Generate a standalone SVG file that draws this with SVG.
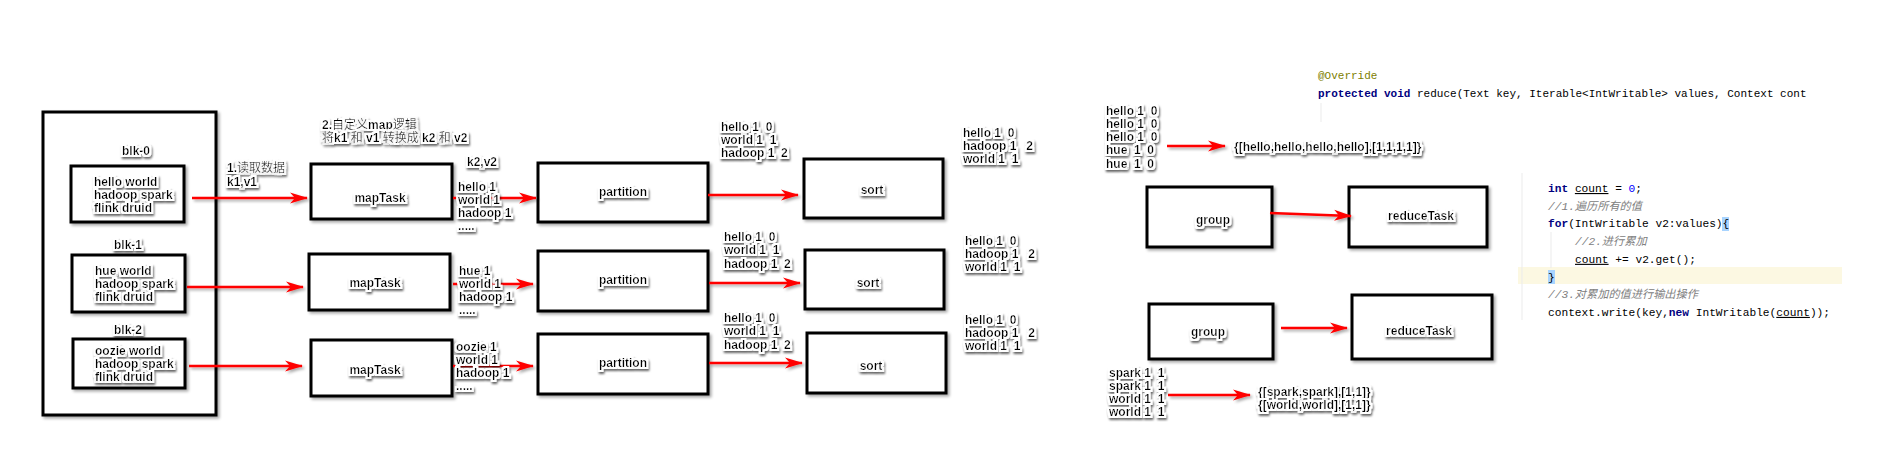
<svg xmlns="http://www.w3.org/2000/svg" width="1880" height="460" viewBox="0 0 1880 460">
<style>
.lbl{font-family:"Liberation Sans","Noto Sans CJK SC",Arial,sans-serif;font-size:12px;font-weight:bold;fill:#000;filter:url(#halo);white-space:pre}
.cn{font-weight:normal}
.mid{text-anchor:middle}
.box{fill:#fff;stroke:#000;stroke-width:3;filter:url(#sh)}
.arr{stroke:#f00;stroke-width:2.5;fill:none;marker-end:url(#ah)}
.code{font-family:"Liberation Mono","Noto Sans CJK SC",monospace;font-size:11.2px;fill:#000;white-space:pre}
.kw{fill:#000080;font-weight:bold}
.num{fill:#0000ff}
.cm{fill:#808080;font-style:italic}
.ann{fill:#808000}
.ul{text-decoration:underline}
.guide{stroke:#ebebeb;stroke-width:1}
</style>
<defs>
<filter id="halo" x="-20%" y="-50%" width="140%" height="200%">
<feMorphology in="SourceAlpha" operator="dilate" radius="1.7" result="d"/>
<feGaussianBlur in="d" stdDeviation="1.2" result="b"/>
<feOffset in="b" dx="1.2" dy="1.8" result="o"/>
<feFlood flood-color="#000" flood-opacity="0.6" result="fc"/>
<feComposite in="fc" in2="o" operator="in" result="shd"/>
<feFlood flood-color="#fff" result="wc"/>
<feComposite in="wc" in2="d" operator="in" result="wh"/>
<feMerge><feMergeNode in="shd"/><feMergeNode in="wh"/><feMergeNode in="SourceGraphic"/></feMerge>
</filter>
<filter id="sh" x="-10%" y="-20%" width="125%" height="150%">
<feGaussianBlur in="SourceAlpha" stdDeviation="1.4"/>
<feOffset dx="2" dy="2" result="o"/>
<feComponentTransfer in="o" result="t"><feFuncA type="linear" slope="0.35"/></feComponentTransfer>
<feMerge><feMergeNode in="t"/><feMergeNode in="SourceGraphic"/></feMerge>
</filter>
<marker id="ah" markerUnits="userSpaceOnUse" markerWidth="18" markerHeight="12" refX="17" refY="6" orient="auto">
<path d="M0,0.5 L18,6 L0,11.5 L5,6 Z" fill="#f00"/>
</marker>
</defs>

<g id="file">
<rect class="box" x="43" y="112" width="173" height="303"/>
</g>
<g id="blk0">
<text class="lbl mid" x="136" y="155">blk-0</text>
<rect class="box" x="71" y="166" width="113" height="56"/>
<text class="lbl" x="94" y="186">hello world</text>
<text class="lbl" x="94" y="199">hadoop spark</text>
<text class="lbl" x="94" y="212">flink druid</text>
</g>
<g id="blk1">
<text class="lbl mid" x="128" y="249">blk-1</text>
<rect class="box" x="72" y="255" width="113" height="57"/>
<text class="lbl" x="95" y="275">hue world</text>
<text class="lbl" x="95" y="288">hadoop spark</text>
<text class="lbl" x="95" y="301">flink druid</text>
</g>
<g id="blk2">
<text class="lbl mid" x="128" y="334">blk-2</text>
<rect class="box" x="73" y="339" width="112" height="49"/>
<text class="lbl" x="95" y="355">oozie world</text>
<text class="lbl" x="95" y="368">hadoop spark</text>
<text class="lbl" x="95" y="381">flink druid</text>
</g>

<g id="map1"><rect class="box" x="311" y="164" width="141" height="55"/><text class="lbl mid" x="380" y="202">mapTask</text></g>
<g id="map2"><rect class="box" x="309" y="254" width="141" height="56"/><text class="lbl mid" x="375" y="287">mapTask</text></g>
<g id="map3"><rect class="box" x="311" y="340" width="141" height="56"/><text class="lbl mid" x="375" y="374">mapTask</text></g>

<g id="part1"><rect class="box" x="538" y="163" width="170" height="59"/><text class="lbl mid" x="623" y="196">partition</text></g>
<g id="part2"><rect class="box" x="538" y="251" width="170" height="60"/><text class="lbl mid" x="623" y="284">partition</text></g>
<g id="part3"><rect class="box" x="538" y="334" width="170" height="60"/><text class="lbl mid" x="623" y="367">partition</text></g>

<g id="sort1"><rect class="box" x="804" y="159" width="139" height="59"/><text class="lbl mid" x="872" y="194">sort</text></g>
<g id="sort2"><rect class="box" x="805" y="250" width="139" height="59"/><text class="lbl mid" x="868" y="287">sort</text></g>
<g id="sort3"><rect class="box" x="807" y="333" width="139" height="60"/><text class="lbl mid" x="871" y="370">sort</text></g>

<g id="group1"><rect class="box" x="1147" y="187" width="125" height="60"/><text class="lbl mid" x="1213" y="224">group</text></g>
<g id="reduce1"><rect class="box" x="1349" y="187" width="138" height="60"/><text class="lbl mid" x="1421" y="220">reduceTask</text></g>
<g id="group2"><rect class="box" x="1149" y="304" width="124" height="55"/><text class="lbl mid" x="1208" y="336">group</text></g>
<g id="reduce2"><rect class="box" x="1352" y="295" width="140" height="64"/><text class="lbl mid" x="1419" y="335">reduceTask</text></g>

<g id="connectors" filter="url(#sh)">
<line class="arr" x1="192" y1="198" x2="307" y2="198"/>
<line class="arr" x1="187" y1="287" x2="303" y2="287"/>
<line class="arr" x1="189" y1="366" x2="302" y2="366"/>
<line class="arr" x1="453" y1="198" x2="536" y2="198"/>
<line class="arr" x1="453" y1="284" x2="533" y2="284"/>
<line class="arr" x1="453" y1="366" x2="533" y2="366"/>
<line class="arr" x1="708" y1="195" x2="798" y2="195"/>
<line class="arr" x1="709" y1="283" x2="800" y2="283"/>
<line class="arr" x1="709" y1="363" x2="802" y2="363"/>
<line class="arr" x1="1167" y1="146" x2="1225" y2="146"/>
<line class="arr" x1="1270" y1="213" x2="1351" y2="216"/>
<line class="arr" x1="1281" y1="328" x2="1347" y2="328"/>
<line class="arr" x1="1168" y1="395" x2="1250" y2="395"/>
</g>

<g id="labels">
<text class="lbl" x="227" y="172">1.<tspan class="cn">读取数据</tspan></text>
<text class="lbl" x="227" y="186">k1,v1</text>
<text class="lbl" x="322" y="129">2.<tspan class="cn">自定义</tspan>map<tspan class="cn">逻辑</tspan></text>
<text class="lbl" x="322" y="142"><tspan class="cn">将</tspan>k1 <tspan class="cn">和</tspan> v1 <tspan class="cn">转换成</tspan> k2 <tspan class="cn">和</tspan> v2</text>
<text class="lbl" x="467" y="166">k2,v2</text>

<text class="lbl" x="458" y="191">hello 1</text>
<text class="lbl" x="458" y="204">world 1</text>
<text class="lbl" x="458" y="217">hadoop 1</text>
<text class="lbl" x="458" y="230">.....</text>
<text class="lbl" x="459" y="275">hue 1</text>
<text class="lbl" x="459" y="288">world 1</text>
<text class="lbl" x="459" y="301">hadoop 1</text>
<text class="lbl" x="459" y="314">.....</text>
<text class="lbl" x="456" y="351">oozie 1</text>
<text class="lbl" x="456" y="364">world 1</text>
<text class="lbl" x="456" y="377">hadoop 1</text>
<text class="lbl" x="456" y="390">.....</text>

<text class="lbl" x="721" y="131">hello 1  0</text>
<text class="lbl" x="721" y="144">world 1  1</text>
<text class="lbl" x="721" y="157">hadoop 1  2</text>
<text class="lbl" x="724" y="241">hello 1  0</text>
<text class="lbl" x="724" y="254">world 1  1</text>
<text class="lbl" x="724" y="268">hadoop 1  2</text>
<text class="lbl" x="724" y="322">hello 1  0</text>
<text class="lbl" x="724" y="335">world 1  1</text>
<text class="lbl" x="724" y="349">hadoop 1  2</text>

<text class="lbl" x="963" y="137">hello 1  0</text>
<text class="lbl" x="963" y="150">hadoop 1   2</text>
<text class="lbl" x="963" y="163">world 1  1</text>
<text class="lbl" x="965" y="245">hello 1  0</text>
<text class="lbl" x="965" y="258">hadoop 1   2</text>
<text class="lbl" x="965" y="271">world 1  1</text>
<text class="lbl" x="965" y="324">hello 1  0</text>
<text class="lbl" x="965" y="337">hadoop 1   2</text>
<text class="lbl" x="965" y="350">world 1  1</text>

<text class="lbl" x="1106" y="115">hello 1  0</text>
<text class="lbl" x="1106" y="128">hello 1  0</text>
<text class="lbl" x="1106" y="141">hello 1  0</text>
<text class="lbl" x="1106" y="154">hue  1  0</text>
<text class="lbl" x="1106" y="168">hue  1  0</text>
<text class="lbl" x="1234" y="151">{[hello,hello,hello,hello],[1,1,1,1]}</text>

<text class="lbl" x="1109" y="377">spark 1  1</text>
<text class="lbl" x="1109" y="390">spark 1  1</text>
<text class="lbl" x="1109" y="403">world 1  1</text>
<text class="lbl" x="1109" y="416">world 1  1</text>
<text class="lbl" x="1258" y="396">{[spark,spark],[1,1]}</text>
<text class="lbl" x="1258" y="409">{[world,world],[1,1]}</text>
</g>

<g id="code">
<line class="guide" x1="1321" y1="103" x2="1321" y2="122"/>
<text class="code ann" x="1318" y="79" style="font-size:11px">@Override</text>
<text class="code" x="1318" y="97" style="font-size:11px"><tspan class="kw">protected void</tspan> reduce(Text key, Iterable&lt;IntWritable&gt; values, Context cont</text>
<rect x="1518" y="267" width="324" height="17" fill="#fcf8e2"/>
<line class="guide" x1="1522" y1="173" x2="1522" y2="320"/>
<line class="guide" x1="1551" y1="232" x2="1551" y2="268"/>
<rect x="1722" y="217" width="7" height="14" fill="#a8d4ff"/>
<rect x="1548" y="270" width="7" height="14" fill="#a8d4ff"/>
<text class="code" x="1548" y="192"><tspan class="kw">int</tspan> <tspan class="ul">count</tspan> = <tspan class="num">0</tspan>;</text>
<text class="code cm" x="1548" y="209.7">//1.遍历所有的值</text>
<text class="code" x="1548" y="227.4"><tspan class="kw">for</tspan>(IntWritable v2:values){</text>
<text class="code cm" x="1575" y="245.1">//2.进行累加</text>
<text class="code" x="1575" y="262.8"><tspan class="ul">count</tspan> += v2.get();</text>
<text class="code" x="1548" y="280.5">}</text>
<text class="code cm" x="1548" y="298.2">//3.对累加的值进行输出操作</text>
<text class="code" x="1548" y="315.9">context.write(key,<tspan class="kw">new</tspan> IntWritable(<tspan class="ul">count</tspan>));</text>
</g>
</svg>
